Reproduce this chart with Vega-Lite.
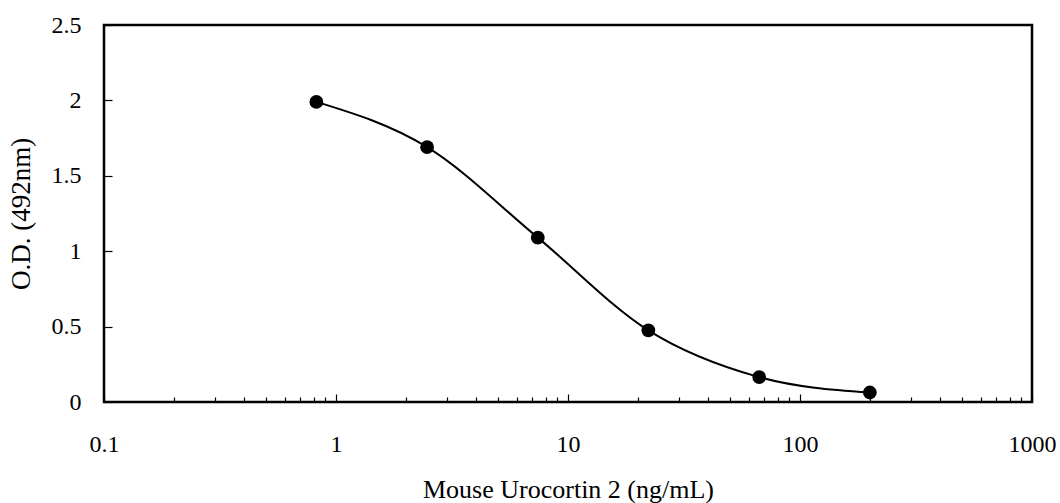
{
  "$schema": "https://vega.github.io/schema/vega-lite/v6.json",
  "width": 928,
  "height": 377,
  "autosize": {"type": "none"},
  "padding": {"left": 104, "top": 25, "right": 28, "bottom": 101},
  "background": "white",
  "config": {
    "view": {"stroke": "black", "strokeWidth": 2.5},
    "font": "Liberation Serif",
    "axis": {"grid": false, "labelFont": "Liberation Serif", "titleFont": "Liberation Serif", "labelColor": "black", "titleColor": "black", "labelFontSize": 24, "titleFontSize": 26, "titleFontWeight": "normal", "tickColor": "black", "domainColor": "black"}
  },
  "data": {"values": [
    {"conc": 0.823, "od": 1.99},
    {"conc": 2.47, "od": 1.69},
    {"conc": 7.41, "od": 1.09},
    {"conc": 22.2, "od": 0.475},
    {"conc": 66.7, "od": 0.165},
    {"conc": 200, "od": 0.063}
  ]},
  "layer": [
    {
      "mark": {"type": "line", "interpolate": "monotone", "color": "black", "strokeWidth": 2},
      "encoding": {
        "x": {"field": "conc", "type": "quantitative", "scale": {"type": "log", "domain": [0.1, 1000]},
          "axis": {"orient": "bottom", "values": [0.1, 1, 10, 100, 1000], "format": "~g", "tickSize": -8, "tickWidth": 1.2, "domain": false, "labelPadding": 38, "labelFlush": false, "title": "Mouse Urocortin 2 (ng/mL)", "titlePadding": 20}},
        "y": {"field": "od", "type": "quantitative", "scale": {"domain": [0, 2.5]},
          "axis": {"values": [0, 0.5, 1, 1.5, 2, 2.5], "format": "~g", "tickSize": -8, "tickWidth": 1.2, "domain": false, "labelPadding": 31, "title": "O.D. (492nm)", "titleFontSize": 27, "titlePadding": 16}}
      }
    },
    {
      "mark": {"type": "point", "filled": true, "color": "black", "opacity": 1, "size": 190},
      "encoding": {
        "x": {"field": "conc", "type": "quantitative", "scale": {"type": "log", "domain": [0.1, 1000]},
          "axis": {"orient": "bottom", "values": [0.2,0.3,0.4,0.5,0.6,0.7,0.8,0.9,2,3,4,5,6,7,8,9,20,30,40,50,60,70,80,90,200,300,400,500,600,700,800,900], "labels": false, "tickSize": -5, "tickWidth": 1.2, "domain": false, "title": null}},
        "y": {"field": "od", "type": "quantitative", "scale": {"domain": [0, 2.5]}, "axis": null}
      }
    }
  ],
  "resolve": {"axis": {"x": "independent", "y": "independent"}}
}
